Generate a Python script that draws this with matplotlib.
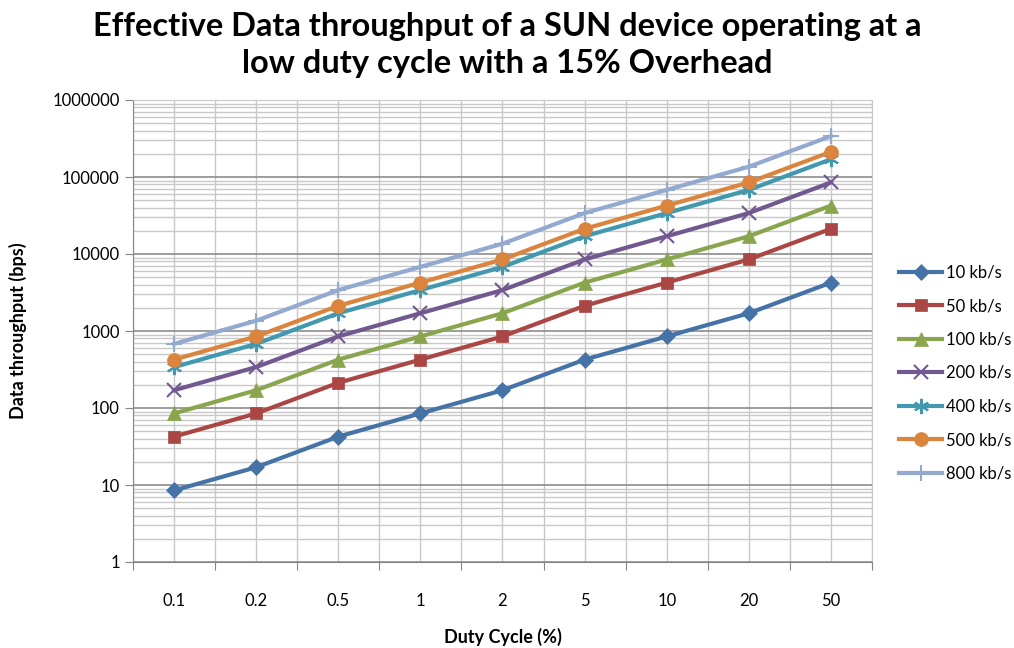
import numpy as np
import matplotlib.pyplot as plt
from matplotlib.ticker import FixedLocator, NullFormatter, LogLocator

duty_labels = ["0.1", "0.2", "0.5", "1", "2", "5", "10", "20", "50"]
series_names = ["10 kb/s", "50 kb/s", "100 kb/s", "200 kb/s", "400 kb/s", "500 kb/s", "800 kb/s"]

tp_10 = [8.5, 17, 42.5, 85, 170, 425, 850, 1700, 4250]
tp_50 = [42.5, 85, 212.5, 425, 850, 2125, 4250, 8500, 21250]
tp_100 = [85, 170, 425, 850, 1700, 4250, 8500, 17000, 42500]
tp_200 = [170, 340, 850, 1700, 3400, 8500, 17000, 34000, 85000]
tp_400 = [340, 680, 1700, 3400, 6800, 17000, 34000, 68000, 170000]
tp_500 = [425, 850, 2125, 4250, 8500, 21250, 42500, 85000, 212500]
tp_800 = [680, 1360, 3400, 6800, 13600, 34000, 68000, 136000, 340000]

all_series = [tp_10, tp_50, tp_100, tp_200, tp_400, tp_500, tp_800]
colors = ["#4572A7", "#AA4643", "#89A54E", "#71588F", "#4198AF", "#DB843D", "#93A9CF"]
markers = ["D", "s", "^", "x", (6, 2, 0), "o", "+"]
msizes = [8, 9, 10, 10, 11, 10, 11]

plt.rcParams['font.family'] = ['Lato', 'DejaVu Sans']

fig = plt.figure(figsize=(10.14, 6.48), dpi=100)
ax = fig.add_axes([133 / 1014, 1 - 562 / 648, (872 - 133) / 1014, (562 - 100) / 648])

x = np.arange(len(duty_labels))
for vals, name, c, m, ms in zip(all_series, series_names, colors, markers, msizes):
    ax.plot(x, vals, color=c, lw=3, marker=m, markersize=ms, label=name,
            markeredgewidth=1.5 if m in ("x", "+") or isinstance(m, tuple) else 0.5,
            markeredgecolor=c, zorder=3)

ax.set_yscale("log")
ax.set_ylim(1, 1e6)
ax.set_xlim(-0.5, len(duty_labels) - 0.5)

# y ticks and grid
ax.yaxis.set_minor_locator(LogLocator(base=10, subs=np.arange(2, 10), numticks=20))
ax.yaxis.set_minor_formatter(NullFormatter())
ax.set_yticks([1, 10, 100, 1000, 10000, 100000, 1000000])
ax.set_yticklabels(["1", "10", "100", "1000", "10000", "100000", "1000000"])
ax.grid(True, which="major", axis="y", color="#8c8c8c", lw=1.2)
ax.grid(True, which="minor", axis="y", color="#c8c8c8", lw=1)

# x ticks at category boundaries, labels at centers
ax.set_xticks(np.arange(-0.5, len(duty_labels), 1.0))
ax.set_xticklabels([])
ax.xaxis.set_minor_locator(FixedLocator(x))
ax.set_xticks(x, minor=True)
ax.set_xticklabels(duty_labels, minor=True)
ax.tick_params(axis="x", which="minor", length=0, pad=22, labelsize=12)
ax.tick_params(axis="x", which="major", length=6, color="#868686", direction="out")
ax.tick_params(axis="y", which="major", length=6, color="#868686", direction="out", labelsize=12)
ax.tick_params(axis="y", which="minor", length=0)
for xv in np.arange(-0.5, len(duty_labels), 0.5):
    ax.axvline(xv, color="#c8c8c8", lw=1, zorder=0)

for side in ["left", "bottom"]:
    ax.spines[side].set_color("#868686")
for side in ["right", "top"]:
    ax.spines[side].set_color("#c8c8c8")

ax.set_xlabel("Duty Cycle (%)", fontsize=13, fontweight="bold", labelpad=14)
ax.set_ylabel("Data throughput (bps)", fontsize=13, fontweight="bold", labelpad=18)
fig.text(0.5, 1 - 45 / 648, "Effective Data throughput of a SUN device operating at a\nlow duty cycle with a 15% Overhead",
         ha="center", va="center", fontsize=23.5, fontweight="bold", linespacing=1.3)

ax.legend(loc="center left", bbox_to_anchor=(884 / 1014, 1 - 373 / 648), bbox_transform=fig.transFigure,
          frameon=False, fontsize=12, handlelength=2.6, labelspacing=1.05, handletextpad=0.2)

fig.savefig("out.png", dpi=100)
